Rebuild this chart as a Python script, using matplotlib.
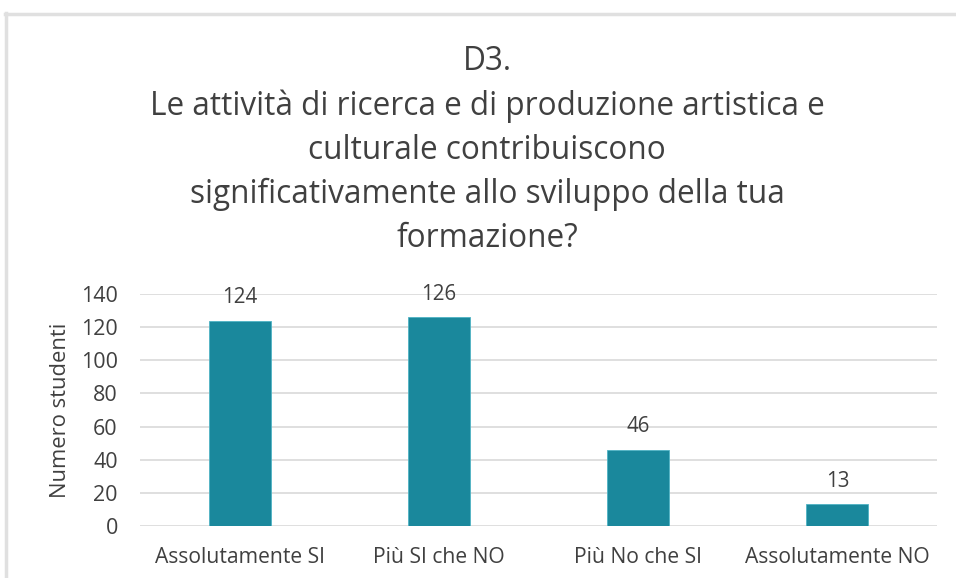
import matplotlib
matplotlib.use("Agg")
import matplotlib.pyplot as plt
from matplotlib.lines import Line2D

categories = ["Assolutamente SI", "Più SI che NO", "Più No che SI", "Assolutamente NO"]
values = [124, 126, 46, 13]
yticks = [0, 20, 40, 60, 80, 100, 120, 140]
title = ("D3.\nLe attività di ricerca e di produzione artistica e\n"
         "culturale contribuiscono\n"
         "significativamente allo sviluppo della tua\nformazione?")

plt.rcParams['font.family'] = ['Open Sans', 'DejaVu Sans']
W, H = 956, 578
fig = plt.figure(figsize=(W/100, H/100), dpi=100)
fig.patch.set_facecolor("white")

# frame lines
fig.add_artist(Line2D([6/W, 6/W], [0, 1 - 13/H], transform=fig.transFigure,
                      color="#e0e0e0", lw=2.5))
fig.add_artist(Line2D([5/W, 1], [1 - 14/H, 1 - 14/H], transform=fig.transFigure,
                      color="#e0e0e0", lw=2.5))

left, right = 140/W, 937/W
bottom, top = 1 - 526/H, 1 - 294/H
ax = fig.add_axes([left, bottom, right - left, top - bottom])

x = range(len(categories))
bars = ax.bar(x, values, width=0.31, color="#1a889c", edgecolor="#4fb3c4",
              linewidth=0.6, zorder=3)
for xi, v in zip(x, values):
    ax.annotate(str(v), (xi, v), xytext=(0, 16.5), textcoords="offset points",
                ha="center", va="center", fontsize=14.8, color="#404040")

ax.set_xlim(-0.5, 3.5)
ax.set_ylim(0, 140)
ax.set_yticks(yticks)
ax.set_xticks(list(x))
ax.set_xticklabels(categories, fontsize=15.2, color="#404040")
ax.tick_params(axis="y", labelsize=15.5, labelcolor="#404040", length=0, pad=16)
ax.tick_params(axis="x", length=0, pad=15)
ax.grid(axis="y", color="#d9d9d9", linewidth=1.2, zorder=0)
for s in ax.spines.values():
    s.set_visible(False)
ax.set_ylabel("Numero studenti", fontsize=15.8, color="#404040", labelpad=7)

fig.text(487/W, 1 - 150/H, title, ha="center", va="center", fontsize=22.7,
         color="#404040", linespacing=1.43)

fig.savefig("out.png", dpi=100)
